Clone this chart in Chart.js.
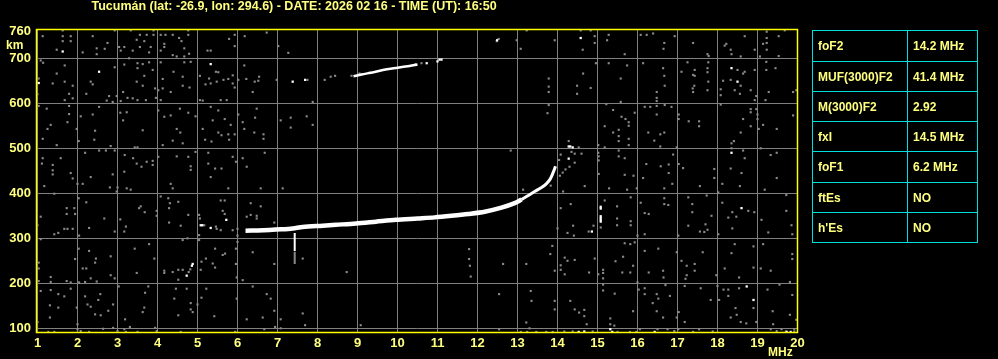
<!DOCTYPE html>
<html><head><meta charset="utf-8">
<script src="https://cdn.jsdelivr.net/npm/chart.js@4.4.0/dist/chart.umd.min.js"></script>
<style>
html,body{margin:0;padding:0;background:#000;width:998px;height:359px;overflow:hidden;}
#wrap{position:relative;width:998px;height:359px;background:#000;}
canvas{position:absolute;left:0;top:0;}
.t{position:absolute;color:#ffff80;font-family:'Liberation Sans',Arial,sans-serif;font-weight:bold;white-space:nowrap;}
.ln{position:absolute;background:#00dede;}
</style></head><body>
<div id="wrap">
<canvas id="c" width="998" height="359"></canvas>
<div class="t" style="left:91.5px;top:0px;font-size:12.5px;line-height:12.5px;">Tucumán (lat: -26.9, lon: 294.6) - DATE: 2026 02 16 - TIME (UT): 16:50</div>
<div class="t" style="left:6px;top:39px;font-size:12px;line-height:12px;">km</div>
<div class="t" style="left:768px;top:346px;font-size:12px;line-height:12px;">MHz</div>
</div>
<script>
// ---- data ----
const xTickValues = [1,2,3,4,5,6,7,8,9,10,11,12,13,14,15,16,17,18,19,20];
const yTickValues = [100,200,300,400,500,600,700,760];

const paramNames  = ['foF2','MUF(3000)F2','M(3000)F2','fxI','foF1','ftEs',"h'Es"];
const paramValues = ['14.2 MHz','41.4 MHz','2.92','14.5 MHz','6.2 MHz','NO','NO'];

// F-layer trace (MHz, km)
const fTrace = [[6.2,317],[6.5,317.5],[6.8,318.5],[7.1,320],[7.38,322],[7.63,325],[8.13,328],[8.46,330],[8.96,333],[9.46,337],[9.96,341],[10.5,344],[10.93,346.5],[11.35,350],[11.77,354],[12.18,359],[12.6,368],[12.93,378],[13.1,386]];
const fTraceTop = [[13.1,386],[13.27,395],[13.43,404],[13.6,413],[13.72,421],[13.82,432],[13.9,448],[13.95,460]];
// second hop trace
const hop2 = [[8.9,660],[9.1,664],[9.4,669],[9.7,675],[10.0,679],[10.3,683],[10.5,686]];
// vertical echo at 7.4 MHz
const spikeWhite = [[7.43,312],[7.43,272]];
const spikeGray = [[7.43,270],[7.43,243]];

const whiteDots = [[1.63,715],[1.03,645],[2.54,670],[5.33,687],[7.38,648],[7.69,652],
[10.73,689],[11.0,693],[11.05,697],[11.1,697],
[12.49,740],[14.58,745],[18.35,678],[18.5,648],[14.28,504],[14.38,502],[14.32,504],[14.28,477],[18.35,490],
[5.08,329],[5.12,329],[5.33,323],[5.72,341],[4.88,243],[4.86,239],[4.73,217],
[18.6,367],[14.86,315],[18.73,193],[18.9,163],[14.53,92],[14.67,93],[15.32,98],[15.37,92],[16.43,92],[19.73,92],[19.83,92],
[15.08,370],[15.08,366],[15.08,349],[15.08,345],[15.08,341],[15.08,337]];

const grayNoise = [
[1.63,762],[1.63,749],[1.83,749],[1.83,738],[1.63,738],[1.13,749],[2.38,749],[2.93,762],[3.33,762],[3.56,752],[3.73,752],[3.9,752],[3.9,762],[3.48,741],[3.67,738],[4.08,752],[4.2,752],[4.38,752],[4.54,745],[4.6,738],[4.77,752],[4.77,762],[4.17,732],[4.17,725],[3.04,725],[3.17,725],[3.08,717],[3.38,717],[3.79,713],[3.56,725],[3.83,725],[2.75,734],[2.48,722],[2.68,721],[2.48,709],[2.13,713],[1.48,719],[4.08,717],[4.38,707],[4.48,704],[4.67,704],[4.67,722],[4.79,710],[5.33,717],[5.25,717],[5.79,743],[5.93,752],[5.93,727],[6.18,749],[6.73,757],[7.02,727],[7.27,712],
[1.08,695],[1.14,690],[1.68,684],[1.48,666],[1.03,655],[1.38,644],[1.68,648],[1.88,639],[1.79,621],[1.88,611],[1.68,607],[1.0,620],
[2.33,648],[2.38,642],[2.22,621],[2.79,616],[2.73,606],[2.88,603],[2.93,680],[2.98,616],
[3.17,686],[3.29,700],[3.5,689],[3.63,687],[3.79,691],[3.5,678],[3.67,661],[3.88,674],[3.48,648],[3.63,639],[3.14,625],[3.25,612],[3.38,611],[3.5,607],[3.71,607],[3.94,633],[3.96,612],[3.08,605],
[4.08,691],[4.13,654],[4.4,670],[4.63,659],[4.67,691],[4.83,692],[4.02,629],[4.13,633],[4.33,625],[4.63,639],[4.8,635],[4.08,607],
[5.46,670],[5.52,669],[5.06,661],[5.29,655],[5.33,644],[5.48,648],[5.65,652],[5.77,654],[5.88,662],[5.88,644],[5.93,635],[5.06,607],[5.13,606],[5.58,607],[5.73,607],[5.2,642],
[6.17,684],[6.02,652],[6.22,654],[6.43,648],[6.54,659],[6.52,650],[6.38,625],[6.98,652],
[7.75,652],[7.88,603],[8.18,652],[8.33,659],[8.44,661],[8.85,661],[9.05,666],[9.3,668],[10.45,687],[10.6,689],
[1.03,594],[1.23,588],[1.79,594],[1.79,576],[1.33,552],[1.25,543],[1.75,558],[1.13,521],[1.48,507],
[2.08,571],[1.98,543],[2.03,516],[2.38,575],[2.44,539],[2.42,519],[2.54,592],
[3.07,579],[3.14,562],[3.23,580],[3.63,540],[2.83,505],
[4.02,584],[4.17,570],[4.33,573],[4.56,588],[4.77,579],[4.48,543],[4.57,535],[4.38,517],[4.13,507],[4.63,511],[4.95,571],
[5.33,592],[5.52,584],[5.38,562],[5.68,565],[5.13,543],[5.83,552],[5.52,535],[5.77,531],[5.93,531],[5.19,519],[5.35,515],[5.6,529],[5.79,519],
[6.02,575],[6.13,558],[6.17,543],[6.44,568],[6.48,588],[6.65,531],[6.65,521],[6.42,535],
[7.08,562],[7.33,568],[7.33,546],[7.73,571],[7.88,552],
[1.13,478],[1.11,466],[1.38,463],[1.38,451],[1.58,478],[1.83,445],[1.88,433],[1.38,442],
[2.19,490],[2.54,495],[2.71,495],[2.93,495],[2.33,436],[2.88,442],
[3.18,485],[3.39,478],[3.43,502],[3.5,502],[3.48,466],[3.6,459],[3.73,470],[3.88,472],[3.88,463],[3.17,448],
[4.02,481],[4.48,482],[4.77,481],[4.83,460],[4.83,452],[4.95,492],
[5.27,490],[5.27,466],[5.44,455],[5.6,455],[5.88,481],[5.96,470],[6.13,478],[6.23,459],[5.33,436],[6.68,490],
[12.48,738],[12.53,743],[13.23,762],[12.98,740],[13.08,721],[13.93,740],
[14.58,762],[14.83,762],[14.93,749],[14.93,734],[14.63,719],[15.28,752],[15.24,740],
[15.68,709],[16.08,752],[16.23,752],[16.39,755],[16.67,734],[16.65,721],[16.93,749],[17.39,734],
[17.75,709],[17.78,705],[18.22,732],[18.18,728],[18.33,719],[18.35,709],[18.58,704],[18.68,749],[18.93,719],[19.06,704],[19.14,732],[19.23,734],[19.23,745],[19.23,759],[19.23,719],[19.53,749],[19.53,705],[19.68,762],
[14.96,689],[15.28,689],[15.74,684],[16.14,689],[16.64,678],[16.67,661],[16.68,639],[16.48,625],[16.48,612],[16.48,605],
[14.64,666],[13.78,655],[13.78,637],[13.78,625],[14.49,639],[14.49,621],[14.83,634],[15.58,655],[15.58,603],
[17.25,691],[17.1,670],[17.43,674],[17.39,663],[17.43,661],[17.77,691],[17.75,678],[17.75,669],[17.77,648],[17.42,639],[17.38,633],[17.39,625],[17.75,629],
[18.5,674],[18.64,666],[18.68,670],[18.33,652],[18.14,650],[18.58,639],[18.43,629],[18.56,621],[18.08,631],[18.08,618],[18.83,629],[18.93,674],[18.97,616],[18.93,607],[19.22,692],[19.22,674],[19.28,625],[19.2,607],[19.45,678],[19.89,625],[19.97,629],
[13.78,596],[13.75,578],[15.22,598],[15.39,585],[15.6,570],[15.7,565],[15.78,558],[15.78,550],[15.93,579],[15.53,541],[15.53,527],[15.53,516],[15.78,521],[15.78,507],[15.18,549],[15.39,535],
[16.18,592],[16.32,592],[16.48,594],[16.68,596],[16.85,592],[16.48,575],[16.27,535],[16.57,531],[16.67,535],[16.42,517],[16.57,504],
[17.03,575],[17.03,565],[17.28,560],[17.54,560],[17.54,549],
[18.08,597],[18.64,565],[18.83,587],[18.83,580],[18.97,587],[19.0,575],[19.0,565],[18.83,549],[19.03,543],[19.14,552],[18.58,535],[19.48,543],[19.89,573],[18.41,516],[18.35,511],
[12.83,495],
[14.28,516],[14.53,502],[14.35,492],[14.43,488],[14.6,488],[14.43,468],[14.3,459],[14.2,453],[14.13,446],[14.08,486],[14.04,474],[14.06,439],
[15.02,507],[15.02,490],[15.03,482],[15.03,473],[15.18,502],[15.53,495],[15.53,482],[15.68,478],[15.9,439],[15.68,441],[15.03,443],
[16.22,465],[16.58,460],[16.78,464],[16.78,445],[16.89,486],[16.98,502],[17.03,465],[17.14,456],[16.14,434],
[17.92,454],[17.92,434],[18.35,500],[18.33,455],[18.6,445],[18.68,478],[18.64,495],[19.08,500],[19.33,485],[19.48,490],[19.48,434],
[1.17,416],[2.0,421],[2.13,421],[2.81,413],[3.0,413],[3.23,411],[3.33,408],[2.98,404],[4.33,421],[4.38,411],[5.77,411],[6.58,411],[7.13,411],
[1.42,399],[2.03,389],[2.22,380],[1.73,367],[1.73,354],[1.92,367],[1.94,354],[1.08,348],[1.0,329],[1.75,321],[1.67,321],[1.42,309],[1.52,312],[1.88,321],[2.04,306],[1.08,298],
[2.67,344],[3.07,342],[3.21,326],[2.29,323],[2.93,315],[3.17,315],
[3.54,367],[3.58,371],[3.68,358],[3.98,361],[3.98,350],[4.08,393],[4.27,389],[4.31,378],[4.52,381],[4.29,367],[4.58,328],[4.29,335],[4.77,352],[4.75,300],[4.63,296],
[5.04,352],[5.06,344],[5.17,329],[5.46,326],[5.48,321],[5.58,318],[5.04,307],[5.04,296],[5.58,384],[5.68,384],[5.63,361],[5.68,354],[5.88,318],[6.0,321],[6.0,306],[6.0,292],
[6.23,348],[6.33,352],[6.48,350],[6.48,344],[6.58,371],[6.33,378],[6.92,335],
[4.63,230],[4.52,230],[4.38,225],[4.17,228],[4.17,223],[4.52,208],[4.82,231],[4.78,225],
[1.03,246],[1.03,233],[1.03,205],[1.33,214],[1.33,203],[1.94,254],[2.03,277],[2.29,272],[2.46,255],[2.44,246],[2.13,233],[2.22,233],[2.04,202],[2.19,203],[2.33,211],[2.48,204],[1.83,202],[1.73,205],[2.83,260],[2.83,218],[2.93,211],[3.43,277],[3.48,223],[3.79,287],[3.92,255],
[5.1,248],[5.08,230],[5.21,255],[5.38,244],[5.44,235],[5.63,263],[5.69,266],[5.44,277],[5.96,277],[5.96,243],[5.98,213],[6.13,207],
[6.38,269],[6.92,243],[7.63,255],[8.73,225],
[1.08,183],[1.33,185],[1.52,176],[1.67,171],[1.83,188],[1.31,151],[1.52,146],[1.31,124],[1.0,114],[1.98,146],[2.19,171],[2.25,153],[2.33,148],[2.52,163],[2.57,176],[2.44,131],[2.58,129],[2.77,139],[2.89,153],
[3.03,193],[3.19,120],[3.63,136],[3.69,179],[3.77,193],[3.67,146],[3.94,101],
[4.46,188],[4.73,188],[4.42,166],[4.52,129],[4.83,156],[4.83,142],[4.88,136],[5.0,153],[5.1,168],[5.22,188],[5.42,127],
[5.98,166],[6.23,120],[6.38,193],[6.63,124],[6.73,176],[6.83,166],[6.92,139],[7.08,120],[7.63,133],[7.69,107],[9.08,107],
[1.27,92],[1.42,92],[2.0,109],[2.0,98],[2.08,94],[2.29,92],[2.64,99],[2.89,101],[3.0,94],[3.17,98],[3.21,92],[3.31,103],[3.5,92],[3.98,94],[4.58,92],[5.94,92],[6.67,98],[6.94,103],[7.08,100],
[13.14,408],[13.83,417],
[14.14,404],[14.08,367],[14.39,328],[14.25,312],[14.41,306],[14.0,322],[14.33,376],[14.68,416],[14.9,328],[14.78,315],
[15.08,324],[15.18,384],
[15.29,411],[15.49,371],[15.49,344],[15.49,329],[15.83,338],[15.83,329],[15.74,408],[15.83,391],[15.98,411],[16.0,306],
[16.08,379],[16.18,356],[16.28,354],[16.18,309],[16.67,389],[16.67,376],[16.77,374],[16.87,421],[16.67,411],
[17.02,306],[17.27,391],[17.37,376],[17.27,328],[17.37,358],[17.56,315],[17.67,314],[17.75,319],[17.56,416],[17.73,395],[17.85,350],[17.7,331],[18.02,402],[18.02,309],[18.12,379],[18.12,421],
[18.27,346],[18.37,358],[18.47,348],[18.37,322],[18.56,416],[18.77,361],[18.92,358],[19.1,341],[19.27,313],[19.72,361],[19.85,329],[19.87,309],[19.72,396],[19.18,408],
[11.79,276],[11.79,254],[11.81,239],[11.83,215],[12.64,243],[13.22,243],[13.87,283],[13.82,265],[14.18,257],[14.25,250],[14.08,240],[14.08,230],[13.93,228],[14.43,252],[14.18,220],[14.79,224],[14.93,255],[15.14,230],[15.14,223],[15.02,220],[15.14,211],
[15.45,249],[15.64,259],[15.68,289],[15.82,287],[15.93,291],[15.89,239],[15.62,224],[15.82,224],[16.0,202],
[16.18,272],[16.52,277],[16.28,224],[16.64,228],[16.65,213],[16.98,269],[17.1,250],[17.23,239],[17.23,218],[17.43,243],[17.43,228],[17.2,210],[17.63,269],[17.97,218],
[18.43,287],[18.35,267],[18.18,233],[18.54,213],[18.9,282],[18.9,235],[19.14,287],[19.08,233],[19.33,228],[19.87,265],[19.87,254],[19.81,203],
[12.54,176],[13.33,183],[13.35,161],[13.93,142],[13.93,161],[13.22,113],[13.3,100],[14.32,161],[14.43,142],[14.54,135],[14.67,141],[14.67,127],[14.73,109],
[15.14,197],[15.14,184],[15.43,177],[15.32,122],[15.32,109],[15.89,138],[16.03,186],[16.18,189],[16.18,176],[16.38,156],[16.48,176],[16.52,166],[16.48,138],[16.64,124],[16.7,196],[16.81,172],[16.98,124],[17.03,136],[17.18,114],[17.18,194],
[17.58,189],[17.83,163],[18.04,163],[18.0,194],[18.15,186],[18.27,186],[18.27,172],[18.54,189],[18.45,145],[18.48,130],[18.58,114],[18.72,111],[18.9,145],[18.97,114],[19.25,186],[19.38,138],[19.55,197],[19.81,130],[19.87,174],[19.97,119],[18.33,124],
[12.54,98],[13.08,92],[13.24,92],[13.47,92],[13.72,92],[13.88,92],[14.17,93],[14.38,93],[14.88,93],[15.42,106],[15.5,92],[15.81,92],[15.97,92],[16.06,98],[16.5,98],[16.75,98],[16.92,94],[17.02,98],[17.39,92],[17.54,98],[17.88,93],[19.33,98],[19.48,94],[19.6,98],[19.71,93],[19.92,93],[19.92,98],[19.39,109]
];

// ---- table ----
const wrap = document.getElementById('wrap');
const rowLines = [30,61,91,121,151,182,212,242];
const colLines = [812,907,977];
function addDiv(cls, st, txt){ const d=document.createElement('div'); d.className=cls; Object.assign(d.style, st); if(txt!==undefined) d.textContent=txt; wrap.appendChild(d); return d; }
rowLines.forEach(y=>addDiv('ln',{left:'812px',top:y+'px',width:'166px',height:'1px'}));
colLines.forEach(x=>addDiv('ln',{left:x+'px',top:'30px',width:'1px',height:'213px'}));
paramNames.forEach((n,i)=>{
  const top=rowLines[i]+1, h=rowLines[i+1]-rowLines[i];
  addDiv('t',{left:'818px',top:top+'px',height:h+'px',lineHeight:h+'px',fontSize:'12px'},n);
  addDiv('t',{left:'913px',top:top+'px',height:h+'px',lineHeight:h+'px',fontSize:'12px'},paramValues[i]);
});

// ---- chart ----
const toPts = a => a.map(p=>({x:p[0],y:p[1]}));
const YEL='#ffff80', GRID='#808080';
const tickFont={family:"'Liberation Sans', Arial, sans-serif", size:13, weight:'bold'};
const frame = { id:'frame', afterDatasetsDraw(chart){ const c=chart.ctx; c.save(); c.strokeStyle='#ffff00'; c.lineWidth=1.5; c.strokeRect(36.5,29.5,761,303); c.restore(); } };

new Chart(document.getElementById('c'), {
  type:'scatter',
  data:{ datasets:[
    {data:toPts(fTrace), showLine:true, borderColor:'#fff', borderWidth:4.5, pointRadius:0, tension:0.3, order:1},
    {data:toPts(fTraceTop), showLine:true, borderColor:'#fff', borderWidth:3, pointRadius:0, tension:0.3, order:1},
    {data:toPts(hop2), showLine:true, borderColor:'#fff', borderWidth:2.5, pointRadius:0, tension:0.3, order:1},
    {data:toPts(spikeWhite), showLine:true, borderColor:'#fff', borderWidth:2, pointRadius:0, order:1},
    {data:toPts(spikeGray), showLine:true, borderColor:'#8a8a8a', borderWidth:2, pointRadius:0, order:2},
    {data:toPts(whiteDots), pointStyle:'rect', pointRadius:1.6, borderWidth:0, backgroundColor:'#fff', order:3},
    {data:toPts(grayNoise), pointStyle:'rect', pointRadius:1.5, borderWidth:0, backgroundColor:'#8a8a8a', order:5}
  ]},
  options:{
    responsive:false, animation:false, events:[],
    layout:{padding:{left:0,right:200,top:29,bottom:0}},
    plugins:{legend:{display:false}, tooltip:{enabled:false}},
    scales:{
      x:{type:'linear', min:0.9875, max:20.0125,
         afterBuildTicks:s=>{s.ticks=xTickValues.map(v=>({value:v}));},
         afterFit:s=>{s.height=26;},
         grid:{color:GRID, lineWidth:1, drawTicks:false},
         border:{display:false},
         ticks:{color:YEL, font:tickFont, padding:3, maxRotation:0, autoSkip:false}},
      y:{type:'linear', min:89.6, max:765,
         afterBuildTicks:s=>{s.ticks=yTickValues.map(v=>({value:v}));},
         afterFit:s=>{s.width=37;},
         grid:{color:ctx=>(ctx.tick && ctx.tick.value===760)?'rgba(0,0,0,0)':GRID, lineWidth:1, drawTicks:false},
         border:{display:false},
         ticks:{color:YEL, font:tickFont, padding:6, autoSkip:false}}
    }
  },
  plugins:[frame]
});
</script>
</body></html>
